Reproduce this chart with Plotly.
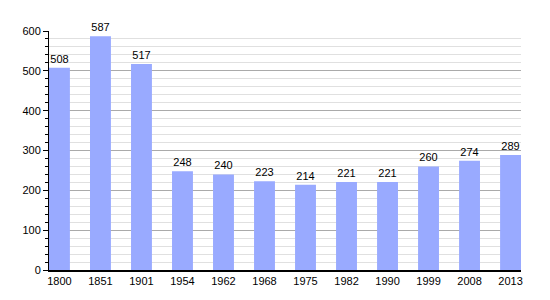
import plotly.graph_objects as go

years = ["1800", "1851", "1901", "1954", "1962", "1968", "1975", "1982", "1990", "1999", "2008", "2013"]
population = [508, 587, 517, 248, 240, 223, 214, 221, 221, 260, 274, 289]

fig = go.Figure()
fig.add_trace(go.Bar(
    x=years,
    y=population,
    width=0.51,
    marker=dict(color="#99aaff", line=dict(width=0)),
    text=[str(v) for v in population],
    textposition="outside",
    textfont=dict(family="Liberation Sans, Arial, sans-serif", size=11, color="#000"),
    cliponaxis=False,
))

fig.update_layout(
    width=550, height=300,
    margin=dict(l=49, r=29, t=31, b=30),
    paper_bgcolor="white", plot_bgcolor="white",
    font=dict(family="Liberation Sans, Arial, sans-serif", size=11, color="#000"),
    showlegend=False,
    bargap=0.49,
)
fig.update_xaxes(
    type="category",
    range=[-0.255, 11.255],
    showline=True, linecolor="#000", linewidth=1.5,
    ticks="", showgrid=False,
    tickfont=dict(size=11),
)
fig.update_yaxes(
    range=[0, 600],
    dtick=100,
    showline=True, linecolor="#000", linewidth=1,
    ticks="outside", ticklen=5, tickcolor="#000",
    showgrid=True, gridcolor="#aaaaaa", gridwidth=1,
    zeroline=False,
    minor=dict(dtick=20, ticks="outside", ticklen=3, tickcolor="#000",
               showgrid=True, gridcolor="#e0e0e0", gridwidth=1),
    tickfont=dict(size=11),
)

fig.write_html("out.html")
